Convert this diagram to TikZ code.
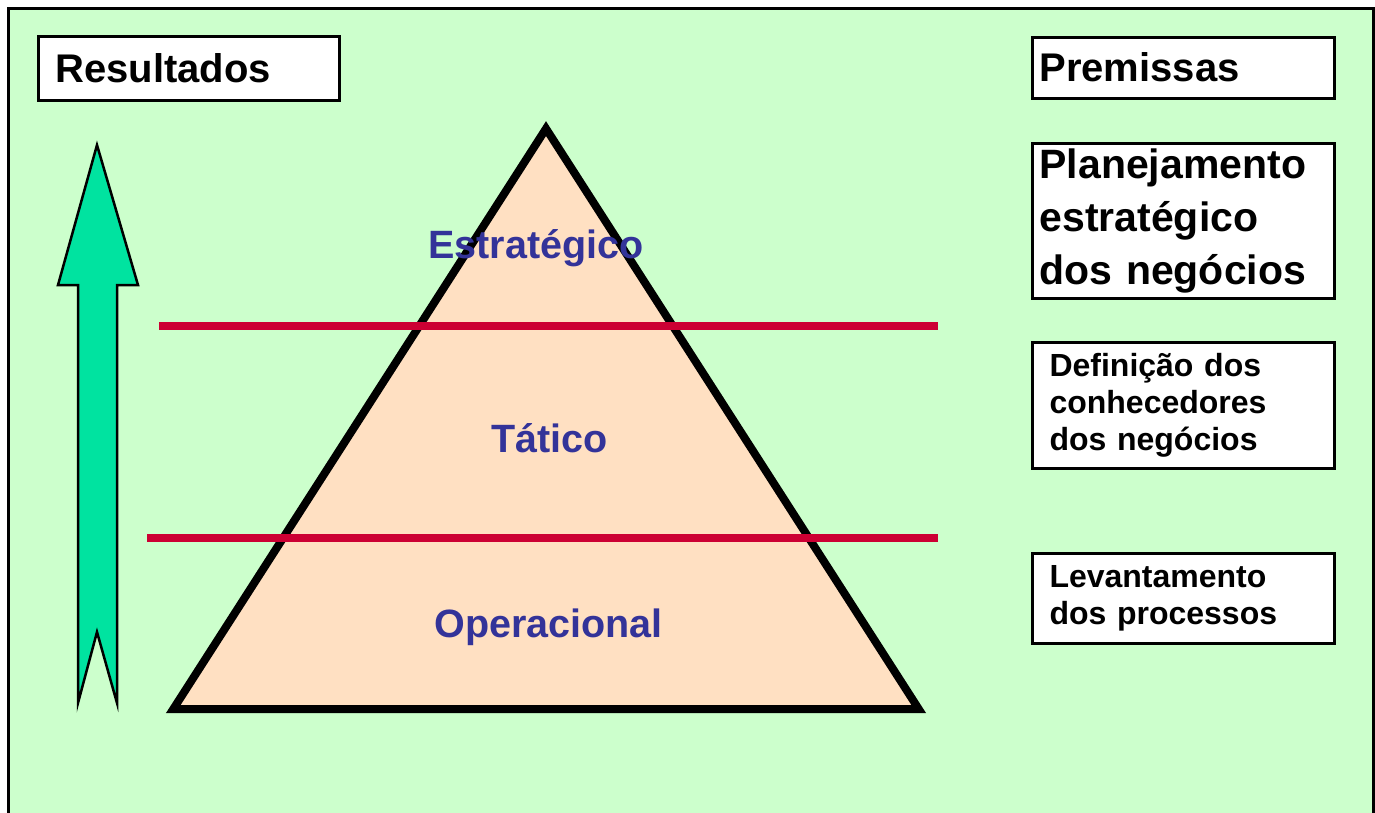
\documentclass[tikz,border=0pt]{standalone}
\usepackage{fontspec}
\setmainfont{Liberation Sans}
\definecolor{bggreen}{HTML}{CCFFCC}
\definecolor{peach}{HTML}{FFE0C2}
\definecolor{redline}{HTML}{CC0033}
\definecolor{textblue}{HTML}{333399}
\definecolor{arrowgreen}{HTML}{00E3A0}
\begin{document}
\begin{tikzpicture}[x=1pt,y=-1pt,
  labelbox/.style={draw=black, line width=3pt, fill=white, anchor=north west,
    inner ysep=0pt, align=left, minimum width=302pt},
  levellabel/.style={text=textblue, font=\bfseries\fontsize{39.5}{44}\selectfont,
    inner sep=0pt, anchor=base},
  divider/.style={draw=redline, line width=8pt},
  bigtext/.style={font=\bfseries\fontsize{40}{48}\selectfont},
  midtext/.style={font=\bfseries\fontsize{41}{53}\selectfont},
  smalltext/.style={font=\bfseries\fontsize{32}{37}\selectfont}]
\useasboundingbox (0,0) rectangle (1375,812);
% frame
\draw[line width=3pt, fill=bggreen] (8.5,8.5) rectangle (1373.5,840);
% left boxes
\node[labelbox, bigtext, minimum height=64pt, minimum width=301pt, text width=266pt, inner xsep=17.5pt]
  (res) at (36.5,34.5) {Resultados};
% right boxes
\node[labelbox, bigtext, minimum height=61pt, text width=287pt, inner xsep=7.5pt]
  (prem) at (1030.5,35.5) {Premissas};
\node[labelbox, midtext, minimum height=155pt, text width=287pt, inner xsep=7.5pt]
  (plan) at (1030.5,141.5) {Planejamento\\estratégico\\dos negócios};
\node[labelbox, smalltext, minimum height=126pt, text width=267pt, inner xsep=17.5pt]
  (def) at (1030.5,340.5) {Definição dos\\conhecedores\\dos negócios};
\node[labelbox, smalltext, minimum height=90pt, text width=267pt, inner xsep=17.5pt]
  (lev) at (1030.5,551.5) {Levantamento\\dos processos};
% upward arrow
\draw[line width=2.5pt, fill=arrowgreen, line join=miter]
  (97,145) -- (138,285) -- (117,285) -- (117,703) -- (97,632) -- (78,703)
  -- (78,285) -- (58,285) -- cycle;
% pyramid
\coordinate (apex) at (546,128.6);
\coordinate (bl) at (173.3,709);
\coordinate (br) at (918.7,709);
\draw[line width=8pt, line join=miter, fill=peach] (apex) -- (bl) -- (br) -- cycle;
% dividers
\coordinate (d1a) at (159,326);
\coordinate (d1b) at (938,326);
\coordinate (d2a) at (147,538);
\coordinate (d2b) at (938,538);
\draw[divider] (d1a) -- (d1b);
\draw[divider] (d2a) -- (d2b);
% level labels
\node[levellabel] (estr) at (536,258) {Estratégico};
\node[levellabel] (tat) at (549.5,452) {Tático};
\node[levellabel] (oper) at (548.5,637) {Operacional};
\end{tikzpicture}
\end{document}
